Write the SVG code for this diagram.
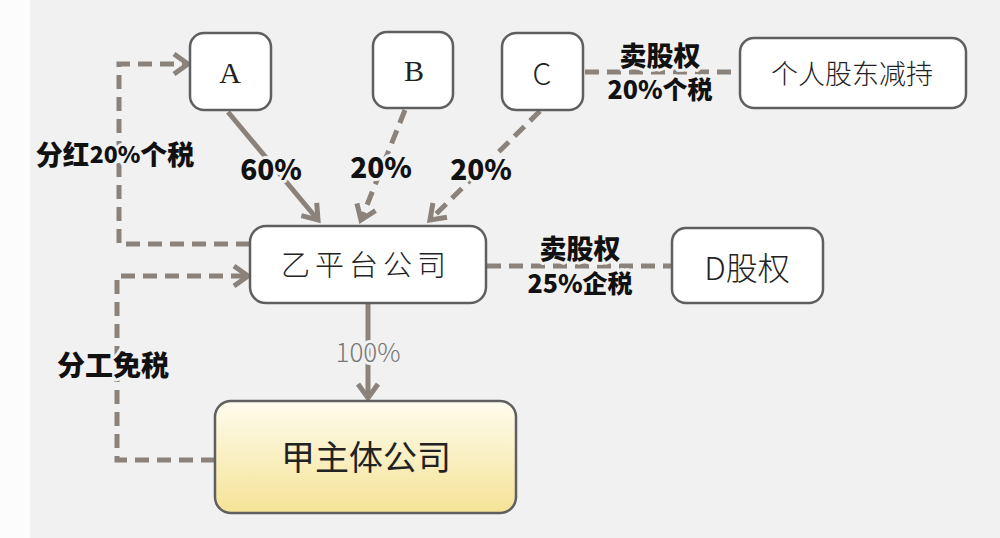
<svg xmlns="http://www.w3.org/2000/svg" width="1000" height="538" viewBox="0 0 1000 538">
<style>
.node{fill:#ffffff;stroke:#5f5f5f;stroke-width:2.5}
.nt{font-family:"Noto Sans CJK SC","Noto Sans",sans-serif;font-weight:300;fill:#222;text-anchor:middle;dominant-baseline:central}
.nt.serif{font-family:"Liberation Serif","DejaVu Serif",serif;font-weight:normal}
.lbl{font-family:"Noto Sans CJK SC","Noto Sans",sans-serif;font-weight:900;fill:#111;text-anchor:middle;dominant-baseline:central;paint-order:stroke;stroke:#f1f1f1;stroke-width:6;stroke-linejoin:round}
.c{fill:none;stroke:#8a827b;stroke-width:5}
.d{stroke-dasharray:14 8}
</style>
<defs>
<marker id="ar" markerUnits="userSpaceOnUse" markerWidth="30" markerHeight="30" refX="20" refY="15" orient="auto">
<path d="M6,5 L20,15 L6,25" fill="none" stroke="#8a827b" stroke-width="5"/>
</marker>
<linearGradient id="yg" x1="0" y1="0" x2="0" y2="1">
<stop offset="0" stop-color="#fefcee"/>
<stop offset="1" stop-color="#f5e396"/>
</linearGradient>
</defs>
<rect x="0" y="0" width="1000" height="538" fill="#f1f1f1"/>
<rect x="0" y="0" width="30" height="538" fill="#fcfcfc"/>
<g id="connectors">
<path class="c" d="M228,112 L318,220" marker-end="url(#ar)"/>
<path class="c d" d="M405,110 L361,220" marker-end="url(#ar)"/>
<path class="c d" d="M540,111 L430,220" marker-end="url(#ar)"/>
<path class="c d" d="M585,72 L740,72"/>
<path class="c d" d="M487,266 L672,266"/>
<path class="c" d="M368,304 L368,398" marker-end="url(#ar)"/>
<path class="c d" d="M250,244 L119,244 L119,64 L188,64" marker-end="url(#ar)"/>
<path class="c d" d="M215,460 L117,460 L117,276 L248,276" marker-end="url(#ar)"/>
<text class="lbl" x="271" y="168" font-size="28">60%</text>
<text class="lbl" x="381" y="166" font-size="28">20%</text>
<text class="lbl" x="481" y="168" font-size="28">20%</text>
<text class="lbl" x="660" y="54" font-size="27">卖股权</text>
<text class="lbl" x="660" y="88" font-size="25">20%个税</text>
<text class="lbl" x="580" y="247" font-size="27">卖股权</text>
<text class="lbl" x="580" y="282" font-size="25">25%企税</text>
<text class="lbl" x="368" y="350" font-size="26" style="font-weight:300;fill:#777">100%</text>
<text class="lbl" x="115" y="153" font-size="27">分红<tspan font-size="23">20%</tspan>个税</text>
<text class="lbl" x="113" y="364" font-size="28">分工免税</text>
</g>
<g id="nodeA"><rect class="node" x="190" y="33" width="81" height="77" rx="14"/><text class="nt serif" x="230" y="72" font-size="30">A</text></g>
<g id="nodeB"><rect class="node" x="373" y="32" width="80" height="76" rx="14"/><text class="nt serif" x="414" y="70" font-size="30">B</text></g>
<g id="nodeC"><rect class="node" x="502" y="33" width="81" height="77" rx="14"/><text class="nt" x="542" y="72" font-size="30">C</text></g>
<g id="nodeP"><rect class="node" x="740" y="38" width="226" height="70" rx="14"/><text class="nt" x="852" y="72" font-size="27">个人股东减持</text></g>
<g id="nodeY"><rect class="node" x="250" y="226" width="236" height="77" rx="16"/><text class="nt" x="366" y="263" font-size="29" letter-spacing="5">乙平台公司</text></g>
<g id="nodeD"><rect class="node" x="672" y="228" width="151" height="75" rx="14"/><text class="nt" x="747" y="266" font-size="32">D股权</text></g>
<g id="nodeJ"><rect x="215" y="401" width="301" height="112" rx="16" fill="url(#yg)" stroke="#5f5f5f" stroke-width="2.5"/><text class="nt" x="366" y="455" font-size="34" style="font-weight:400">甲主体公司</text></g>
</svg>
